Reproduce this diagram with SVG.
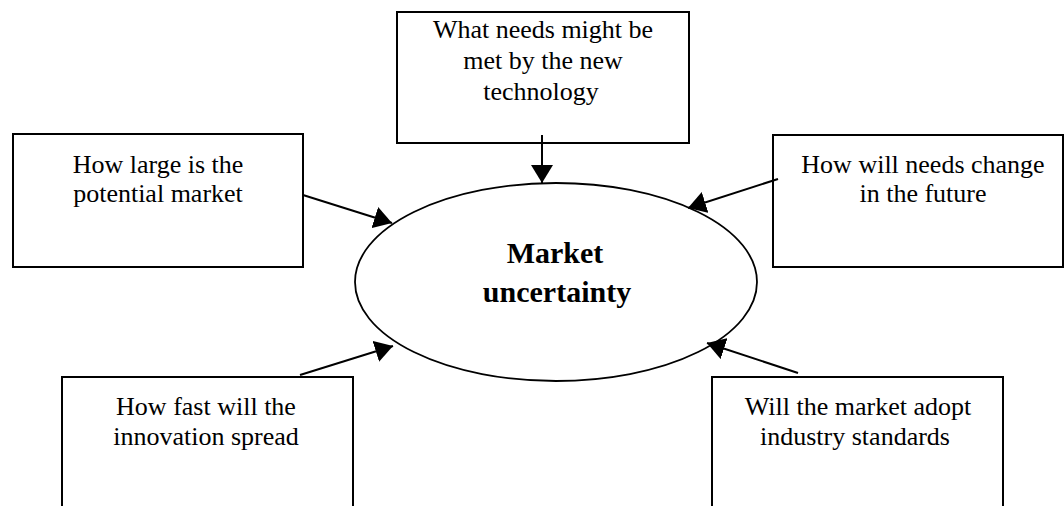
<svg xmlns="http://www.w3.org/2000/svg" width="1064" height="506" viewBox="0 0 1064 506">
  <style>
    .box { fill: #ffffff; stroke: #000000; stroke-width: 2; }
    .ell { fill: #ffffff; stroke: #000000; stroke-width: 1.8; }
    .lbl { font-family: "Liberation Serif", "Times New Roman", serif; font-size: 26px; fill: #000000; text-anchor: middle; }
    .main { font-family: "Liberation Serif", "Times New Roman", serif; font-size: 30px; font-weight: bold; fill: #000000; text-anchor: middle; }
    .conn { stroke: #000000; stroke-width: 2; fill: none; marker-end: url(#arrow); }
  </style>
  <defs>
    <marker id="arrow" viewBox="0 0 18 22" refX="18" refY="11" markerWidth="18" markerHeight="22" markerUnits="userSpaceOnUse" orient="auto">
      <path d="M0,0 L18,11 L0,22 Z" fill="#000000"/>
    </marker>
  </defs>
  <rect width="1064" height="506" fill="#ffffff"/>

  <g id="node-top">
    <rect class="box" x="397" y="12" width="292" height="131"/>
    <text class="lbl" x="543" y="38">What needs might be</text>
    <text class="lbl" x="543" y="69">met by the new</text>
    <text class="lbl" x="541" y="100">technology</text>
  </g>

  <g id="node-left">
    <rect class="box" x="13" y="134" width="290" height="133"/>
    <text class="lbl" x="158" y="173">How large is the</text>
    <text class="lbl" x="158" y="202">potential market</text>
  </g>

  <g id="node-right">
    <rect class="box" x="773" y="135" width="290" height="132"/>
    <text class="lbl" x="923" y="173">How will needs change</text>
    <text class="lbl" x="923" y="202">in the future</text>
  </g>

  <g id="node-bottom-left">
    <rect class="box" x="62" y="377" width="291" height="150"/>
    <text class="lbl" x="206" y="415">How fast will the</text>
    <text class="lbl" x="206" y="445">innovation spread</text>
  </g>

  <g id="node-bottom-right">
    <rect class="box" x="712" y="377" width="291" height="150"/>
    <text class="lbl" x="858" y="415">Will the market adopt</text>
    <text class="lbl" x="855" y="445">industry standards</text>
  </g>

  <g id="node-center">
    <ellipse class="ell" cx="556" cy="282" rx="201" ry="99"/>
    <text class="main" x="555" y="263">Market</text>
    <text class="main" x="557" y="302">uncertainty</text>
  </g>

  <g id="connectors">
    <line class="conn" x1="542" y1="135" x2="542" y2="183"/>
    <line class="conn" x1="303" y1="195" x2="392" y2="223"/>
    <line class="conn" x1="778" y1="179" x2="688" y2="208"/>
    <line class="conn" x1="300" y1="375" x2="393" y2="346"/>
    <line class="conn" x1="798" y1="373" x2="707" y2="343"/>
  </g>
</svg>
